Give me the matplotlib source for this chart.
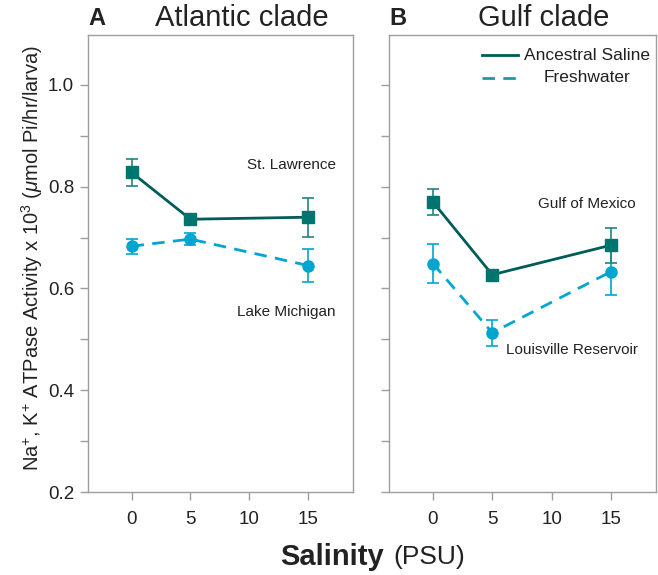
import matplotlib
matplotlib.use("Agg")
import matplotlib.pyplot as plt
from matplotlib.lines import Line2D

plt.rcParams['font.family'] = ['Liberation Sans', 'DejaVu Sans']
plt.rcParams['mathtext.fontset'] = 'custom'
plt.rcParams['mathtext.rm'] = 'Liberation Sans'
plt.rcParams['mathtext.it'] = 'Liberation Sans:italic'

salinity = [0, 5, 15]

atl_saline = [0.828, 0.736, 0.740]
atl_saline_err = [0.026, 0.006, 0.038]
atl_fresh = [0.683, 0.697, 0.645]
atl_fresh_err = [0.015, 0.012, 0.032]

gulf_saline = [0.770, 0.627, 0.685]
gulf_saline_err = [0.026, 0.004, 0.034]
gulf_fresh = [0.649, 0.513, 0.633]
gulf_fresh_err = [0.038, 0.026, 0.046]

panel_letters = ["A", "B"]
panel_titles = ["Atlantic clade", "Gulf clade"]
series_names = ["Ancestral Saline", "Freshwater"]
yticks = [0.2, 0.3, 0.4, 0.5, 0.6, 0.7, 0.8, 0.9, 1.0]
ytick_labels = ["0.2", "", "0.4", "", "0.6", "", "0.8", "", "1.0"]
xticks = [0, 5, 10, 15]

C_SAL_LINE = "#005c58"
C_SAL_MARK = "#007570"
C_SAL_ERR = "#1f8580"
C_FR = "#00a6cf"
C_LEG_FR = "#1e9a9e"
SPINE = "#9e9e9e"
TXT = "#222222"

fig = plt.figure(figsize=(6.58, 5.75), dpi=100)
axA = fig.add_axes([0.1337, 0.1443, 0.4027, 0.7948])
axB = fig.add_axes([0.5912, 0.1443, 0.4058, 0.7948])

narrow = ['Liberation Sans Narrow', 'Liberation Sans', 'DejaVu Sans']

data = [
    (atl_saline, atl_saline_err, atl_fresh, atl_fresh_err),
    (gulf_saline, gulf_saline_err, gulf_fresh, gulf_fresh_err),
]

for i, ax in enumerate([axA, axB]):
    s, se, f, fe = data[i]
    ax.errorbar(salinity, f, yerr=fe, color=C_FR, ecolor=C_FR, elinewidth=1.2,
                capsize=4.5, capthick=1.2, lw=2.0, ls=(0, (4.5, 3.0)),
                marker='o', ms=8, mfc=C_FR, mec=C_FR, zorder=2)
    ax.errorbar(salinity, s, yerr=se, color=C_SAL_LINE, ecolor=C_SAL_ERR, elinewidth=1.2,
                capsize=4.5, capthick=1.2, lw=2.0, ls='-',
                marker='s', ms=8, mfc=C_SAL_MARK, mec=C_SAL_MARK, zorder=3)
    ax.set_xlim(-3.7, 18.8)
    ax.set_ylim(0.2, 1.098)
    ax.set_xticks(xticks)
    ax.set_xticklabels([str(x) for x in xticks], fontsize=13.5, color=TXT)
    ax.set_yticks(yticks)
    if i == 0:
        ax.set_yticklabels(ytick_labels, fontsize=13.5, color=TXT)
    else:
        ax.set_yticklabels([""] * len(yticks))
    for sp in ax.spines.values():
        sp.set_color(SPINE)
        sp.set_linewidth(1.0)
    ax.tick_params(axis='both', colors=SPINE, length=6, width=1.0, labelcolor=TXT, pad=4)
    ax.tick_params(axis='x', pad=8)
    ax.text(0.0, 1.012, panel_letters[i], transform=ax.transAxes, fontsize=17,
            fontweight='bold', color=TXT, ha='left', va='bottom')
    ax.text(0.58, 1.006, panel_titles[i], transform=ax.transAxes, fontsize=21,
            color=TXT, ha='center', va='bottom')

axA.text(0.935, 0.715, "St. Lawrence", transform=axA.transAxes, fontsize=11,
         family=narrow, color=TXT, ha='right', va='center')
axA.text(0.935, 0.393, "Lake Michigan", transform=axA.transAxes, fontsize=11,
         family=narrow, color=TXT, ha='right', va='center')
axB.text(0.925, 0.630, "Gulf of Mexico", transform=axB.transAxes, fontsize=11,
         family=narrow, color=TXT, ha='right', va='center')
axB.text(0.437, 0.311, "Louisville Reservoir", transform=axB.transAxes, fontsize=11,
         family=narrow, color=TXT, ha='left', va='center')

# legend
axB.add_line(Line2D([0.348, 0.483], [0.956, 0.956], transform=axB.transAxes,
                    color=C_SAL_LINE, lw=2.0))
axB.add_line(Line2D([0.348, 0.483], [0.906, 0.906], transform=axB.transAxes,
                    color=C_LEG_FR, lw=2.0, ls=(0, (4.5, 3.0))))
axB.text(0.74, 0.956, series_names[0], transform=axB.transAxes, fontsize=12.5,
         family=narrow, color=TXT, ha='center', va='center')
axB.text(0.74, 0.906, series_names[1], transform=axB.transAxes, fontsize=12.5,
         family=narrow, color=TXT, ha='center', va='center')

fig.text(0.048, 0.552, r"Na$^{+}$, K$^{+}$ ATPase Activity x 10$^{3}$ ($\mu$mol Pi/hr/larva)",
         rotation=90, fontsize=14.5, color=TXT, ha='center', va='center')
fig.text(0.584, 0.032, "Salinity", fontsize=21, fontweight='bold', color=TXT,
         ha='right', va='center')
fig.text(0.598, 0.032, "(PSU)", fontsize=19, color=TXT, ha='left', va='center')

fig.savefig("out.png", dpi=100)
